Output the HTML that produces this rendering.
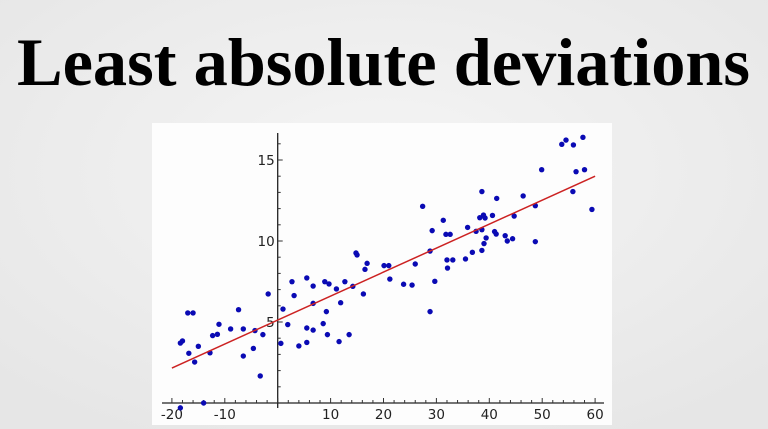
<!DOCTYPE html>
<html><head><meta charset="utf-8"><style>
html,body{margin:0;padding:0;width:768px;height:429px;overflow:hidden;background:#ececec;}
svg{display:block}
</style></head><body>
<svg id="s" width="768" height="429" viewBox="0 0 768 429" xmlns="http://www.w3.org/2000/svg">
<defs><radialGradient id="bg" cx="50%" cy="40%" r="70%"><stop offset="0" stop-color="#f5f5f5"/><stop offset="1" stop-color="#e6e6e6"/></radialGradient></defs>
<rect width="768" height="429" fill="url(#bg)"/>
<text x="17" y="85" font-family="Liberation Serif, serif" font-weight="bold" font-size="68" textLength="733" lengthAdjust="spacingAndGlyphs" fill="#000">Least absolute deviations</text>
<rect x="152" y="123" width="460" height="302" fill="#fdfdfd"/>
<g id="axes"></g>
<g id="marks"></g>
</svg>
<script>
const xVals=[-18.4,-18.0,-17.0,-16.0,-16.8,-15.7,-15.0,-18.4,-14.0,-12.8,-12.3,-11.4,-11.1,-8.9,-7.4,-6.5,-6.5,-4.6,-4.3,-3.3,-2.8,-1.8,0.6,1.0,1.9,2.7,3.1,4.0,5.5,5.5,5.5,6.7,6.7,6.7,8.6,8.9,9.2,9.4,9.7,11.1,11.6,11.9,12.7,13.5,14.2,14.8,15.0,16.2,16.5,16.9,
20.1,21.0,21.2,23.8,25.4,26.0,27.4,28.8,28.8,29.2,29.7,31.3,31.8,32.6,32.0,32.1,33.1,35.5,35.9,36.8,37.5,38.2,38.6,38.6,38.6,38.9,39.2,39.0,39.4,40.6,41.0,41.3,41.4,43.0,43.4,44.4,44.7,46.4,48.7,48.7,49.9,53.7,54.5,55.9,55.8,56.4,57.7,58.0,59.4];
const yVals=[3.7,3.83,5.56,5.56,3.07,2.53,3.5,-0.3,0,3.1,4.16,4.24,4.86,4.57,5.76,4.57,2.9,3.37,4.47,1.67,4.22,6.73,3.68,5.8,4.84,7.49,6.63,3.52,7.72,4.63,3.74,7.22,4.5,6.15,4.9,7.49,5.64,4.22,7.35,7.04,3.79,6.19,7.49,4.22,7.2,9.26,9.14,6.73,8.25,8.62,
8.48,8.48,7.65,7.33,7.28,8.58,12.14,9.38,5.64,10.64,7.51,11.28,10.41,10.41,8.83,8.33,8.83,8.89,10.84,9.3,10.6,11.44,10.7,13.05,9.42,11.6,11.42,9.84,10.19,11.58,10.58,10.43,12.63,10.33,10.0,10.14,11.54,12.78,12.18,9.96,14.4,15.97,16.23,15.93,13.05,14.28,16.4,14.4,11.95];
const fitX=[-20,60];
const fitY=[2.16,14.0];
const xTicks=[-20,-10,10,20,30,40,50,60];
const yTicks=[5,10,15];
const NS="http://www.w3.org/2000/svg";
const sx=v=>277.7+v*5.29;
const sy=v=>403-v*16.2;
function mk(tag,attrs,parent){const e=document.createElementNS(NS,tag);for(const k in attrs)e.setAttribute(k,attrs[k]);parent.appendChild(e);return e;}
const ax=document.getElementById('axes'),mg=document.getElementById('marks');
let l=mk('line',{x1:162,x2:604,y1:sy(0),y2:sy(0),stroke:'#222','stroke-width':1.3},ax);


l=mk('line',{x1:sx(0),x2:sx(0),y1:133,y2:408,stroke:'#222','stroke-width':1.3},ax);


for(let v=-20;v<=60;v+=2){const major=v%10===0;mk('line',{x1:sx(v),x2:sx(v),y1:sy(0),y2:sy(0)-(major?5:3),stroke:'#333','stroke-width':1},ax);}
for(let v=1;v<=16;v++){const major=v%5===0;mk('line',{x1:sx(0),x2:sx(0)+(major?5:3),y1:sy(v),y2:sy(v),stroke:'#333','stroke-width':1},ax);}
xTicks.forEach(v=>{const t=mk('text',{x:sx(v),y:419,'text-anchor':'middle','font-family':'DejaVu Sans, sans-serif','font-size':13.5,fill:'#222'},ax);t.textContent=v;

});
yTicks.forEach(v=>{const t=mk('text',{x:sx(0)-3,y:sy(v)+5,'text-anchor':'end','font-family':'DejaVu Sans, sans-serif','font-size':13.5,fill:'#222'},ax);t.textContent=v;

});
xVals.forEach((x,i)=>{const c=mk('circle',{cx:sx(x),cy:sy(yVals[i]),r:2.7,fill:'#0a0ab4'},mg);

});
const fl=mk('line',{x1:sx(fitX[0]),y1:sy(fitY[0]),x2:sx(fitX[1]),y2:sy(fitY[1]),stroke:'#cc2222','stroke-width':1.5},mg);


</script>
</body></html>
